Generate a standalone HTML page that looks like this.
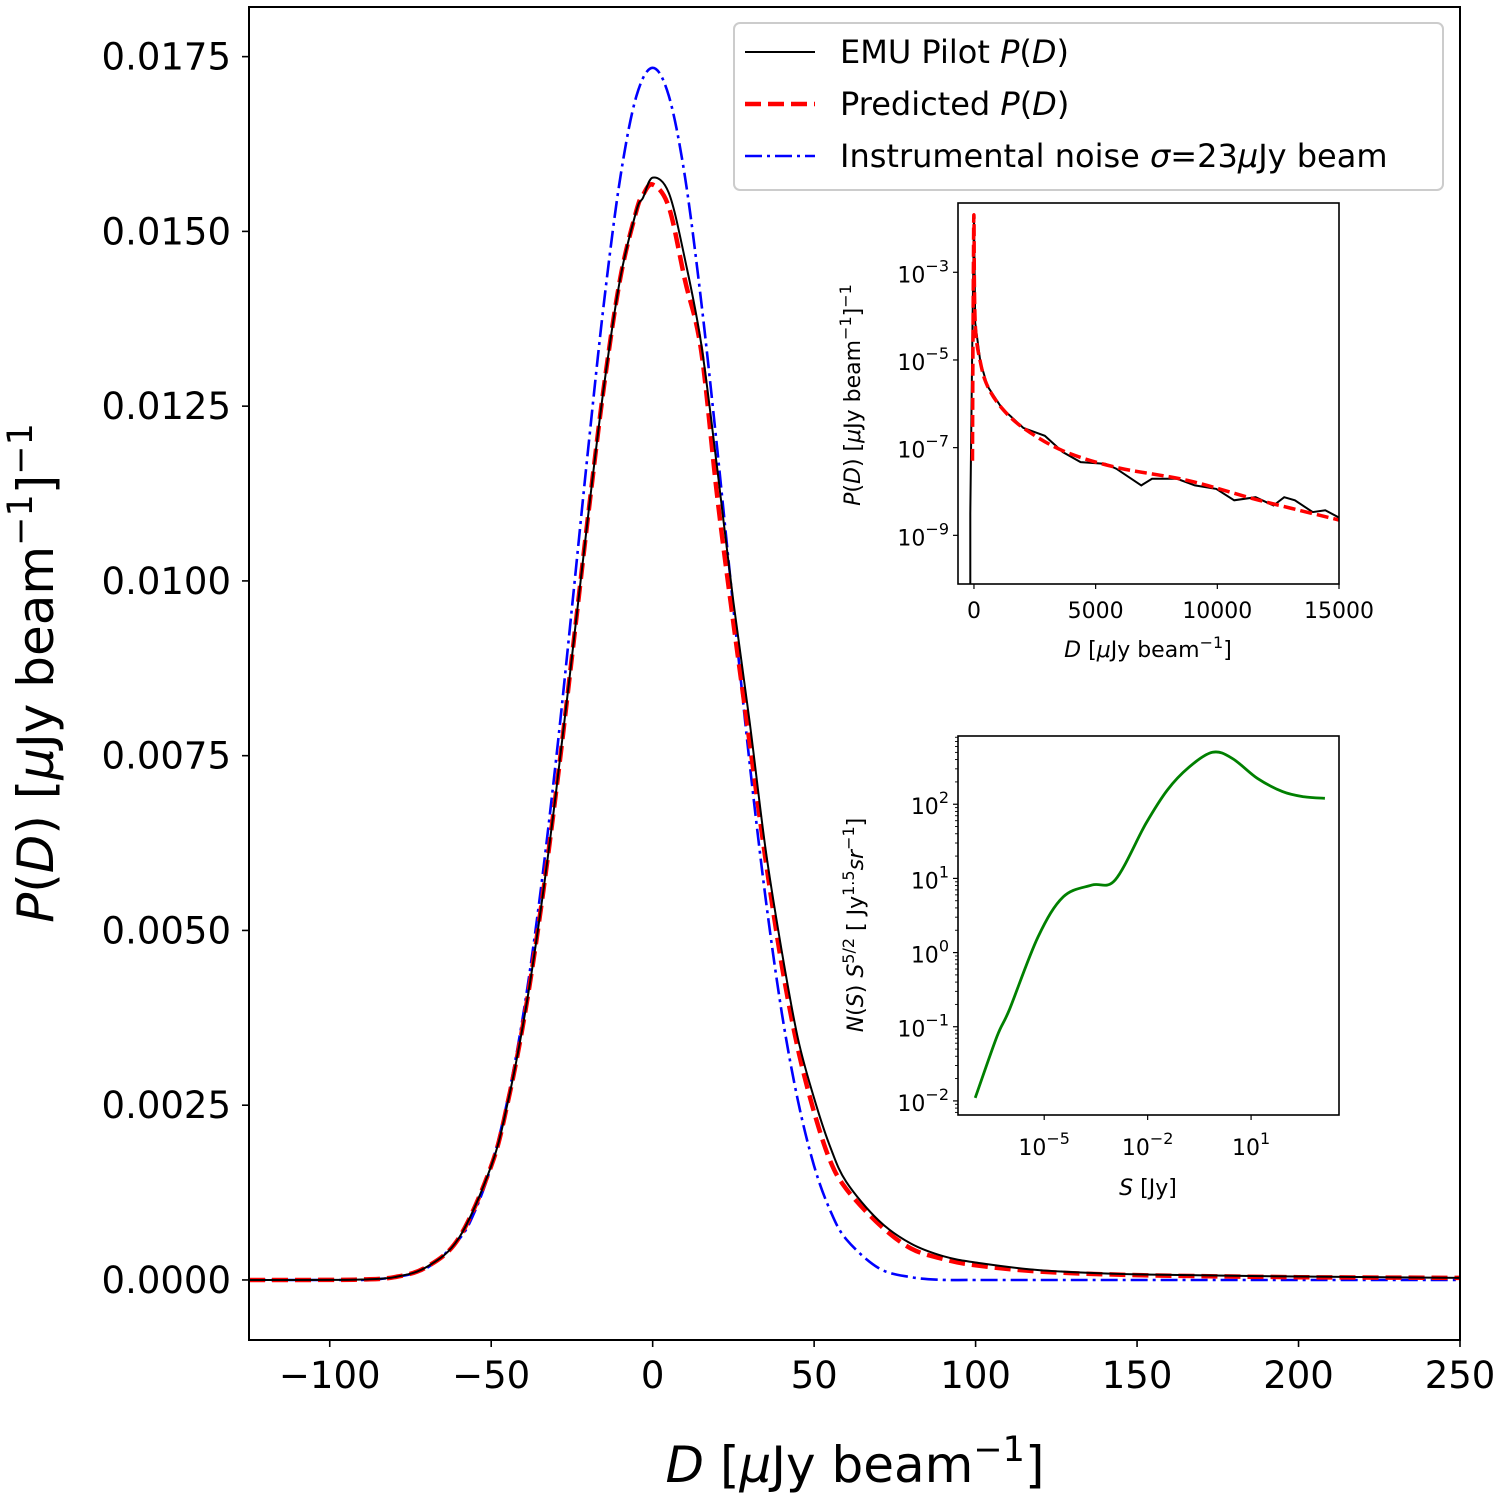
<!DOCTYPE html>
<html><head><meta charset="utf-8"><style>
html,body{margin:0;padding:0;background:#fff;}
svg{display:block;font-family:"DejaVu Sans","Liberation Sans",sans-serif;}
</style></head><body>
<svg id="chart" width="1500" height="1499" viewBox="0 0 1500 1499" xmlns="http://www.w3.org/2000/svg">
<rect x="0" y="0" width="1500" height="1499" fill="#fff"/>
<g id="main"></g>
<g id="inset1"></g>
<g id="inset2"></g>
</svg>
<script>
// ---- main plot data ----
const mainD = [-125,-100,-90,-80,-70,-60,-50,-45,-40,-35,-30,-25,-20,-15,-10,-5,-3,0,5,10,15,20,25,30,35,40,45,50,55,60,70,80,90,100,120,150,200,250];
const emuP = [0,0.000001,0.000007,0.00004,0.000185,0.0006,0.00163,0.00251,0.00369,0.00518,0.00695,0.00891,0.01093,0.01281,0.01434,0.0153,0.01548,0.01577,0.01555,0.0146,0.0134,0.0116,0.0097,0.008,0.00615,0.0047,0.00345,0.0026,0.0019,0.0014,0.00085,0.00052,0.00034,0.00025,0.00014,0.00008,0.00005,0.00003];
const predP = [0,0.000001,0.000007,0.00004,0.000185,0.0006,0.00163,0.00251,0.00369,0.00518,0.00695,0.00891,0.01093,0.01281,0.01434,0.0153,0.01552,0.01567,0.01535,0.0143,0.0133,0.0112,0.0094,0.0077,0.006,0.0045,0.0033,0.0024,0.0017,0.0013,0.0008,0.00045,0.0003,0.00021,0.00012,0.00007,0.00004,0.00003];
const noiseD = [-125,-100,-90,-80,-70,-60,-55,-50,-45,-40,-35,-30,-25,-20,-15,-10,-5,0,5,10,15,20,25,30,35,40,45,50,55,60,70,80,90,100,125,150,200,250];
const noiseP = [0,0,0.000001,0.00004,0.00017,0.00058,0.00099,0.00163,0.00256,0.00382,0.00545,0.00741,0.00961,0.01188,0.01401,0.01578,0.01694,0.01734,0.01694,0.01578,0.01401,0.01188,0.00961,0.00741,0.00545,0.00382,0.00256,0.00163,0.00099,0.00058,0.00017,0.00004,0.000001,0,0,0,0,0];
const mainXTicks = [-100,-50,0,50,100,150,200,250];
const mainXTickLabels = ["\u2212100","\u221250","0","50","100","150","200","250"];
const mainYTicks = [0,0.0025,0.005,0.0075,0.01,0.0125,0.015,0.0175];
const mainYTickLabels = ["0.0000","0.0025","0.0050","0.0075","0.0100","0.0125","0.0150","0.0175"];
// ---- inset 1 (log P(D)) ----
const in1EmuD = [-150,-150,-60,-20,0,49,266,561,1148,2029,2910,3648,4381,5409,5848,6877,7317,8345,9079,9960,10693,11574,12307,12748,13188,13921,14435,14948,15000];
const in1EmuLogP = [-10.5,-8.5,-4.2,-2.5,-1.75,-4.15,-5.05,-5.6,-6.1,-6.55,-6.73,-7.1,-7.33,-7.37,-7.48,-7.86,-7.71,-7.71,-7.86,-7.94,-8.2,-8.13,-8.32,-8.13,-8.2,-8.47,-8.43,-8.58,-8.6];
const in1PredD = [-60,-40,-20,0,49,266,561,1148,2029,3648,5848,8787,11721,15000];
const in1PredLogP = [-7.3,-4.5,-2.6,-1.75,-4.15,-5.05,-5.6,-6.1,-6.55,-7.07,-7.45,-7.75,-8.2,-8.65];
const in1XTicks = [0,5000,10000,15000];
const in1YTickExps = [-3,-5,-7,-9];
// ---- inset 2 (source counts) ----
const in2LogS = [-7,-6.37,-6.01,-5.18,-4.45,-3.62,-2.94,-2.05,-1.43,-0.8,-0.12,0.45,1.18,1.91,2.53,3.14];
const in2LogN = [-1.96,-1.13,-0.77,0.21,0.75,0.91,0.98,1.74,2.19,2.5,2.7,2.62,2.35,2.17,2.1,2.08];
const in2XTickExps = [-5,-2,1];
const in2YTickExps = [-2,-1,0,1,2];

const NS="http://www.w3.org/2000/svg";
function mk(parent,tag,attrs){const e=document.createElementNS(NS,tag);for(const k in attrs)e.setAttribute(k,attrs[k]);parent.appendChild(e);return e;}
function pathFrom(xs,ys,fx,fy){return xs.map((x,i)=>(i?'L':'M')+fx(x).toFixed(1)+','+fy(ys[i]).toFixed(1)).join('');}
function smoothFrom(xs,ys,fx,fy){
  const P=xs.map((x,i)=>[fx(x),fy(ys[i])]);
  let d='M'+P[0][0].toFixed(1)+','+P[0][1].toFixed(1);
  for(let i=0;i<P.length-1;i++){
    const p0=P[Math.max(0,i-1)],p1=P[i],p2=P[i+1],p3=P[Math.min(P.length-1,i+2)];
    const c1x=p1[0]+(p2[0]-p0[0])/6,c1y=p1[1]+(p2[1]-p0[1])/6;
    const c2x=p2[0]-(p3[0]-p1[0])/6,c2y=p2[1]-(p3[1]-p1[1])/6;
    d+='C'+c1x.toFixed(1)+','+c1y.toFixed(1)+' '+c2x.toFixed(1)+','+c2y.toFixed(1)+' '+p2[0].toFixed(1)+','+p2[1].toFixed(1);
  }
  return d;
}
function clip(id,x,y,w,h){const d=mk(document.getElementById('chart'),'clipPath',{id:id});mk(d,'rect',{x:x,y:y,width:w,height:h});}

// main axes
const M={x0:249,x1:1460,y0:7,y1:1340,xmin:-125,xmax:250,ymin:-0.000859,ymax:0.01821};
const mx=v=>M.x0+(v-M.xmin)/(M.xmax-M.xmin)*(M.x1-M.x0);
const my=v=>M.y1-(v-M.ymin)/(M.ymax-M.ymin)*(M.y1-M.y0);
const gm=document.getElementById('main');
clip('cm',M.x0,M.y0,M.x1-M.x0,M.y1-M.y0);
const gl=mk(gm,'g',{'clip-path':'url(#cm)'});
let p;
p=mk(gl,'path',{d:smoothFrom(noiseD,noiseP,mx,my),fill:'none',stroke:'#0000ff','stroke-width':2.6,'stroke-dasharray':'17,5,3,5'});


p=mk(gl,'path',{d:smoothFrom(mainD,predP,mx,my),fill:'none',stroke:'#ff0000','stroke-width':4.5,'stroke-dasharray':'16,7'});


p=mk(gl,'path',{d:smoothFrom(mainD,emuP,mx,my),fill:'none',stroke:'#000','stroke-width':2});


let r=mk(gm,'rect',{x:M.x0,y:M.y0,width:M.x1-M.x0,height:M.y1-M.y0,fill:'none',stroke:'#000','stroke-width':2});


mainXTicks.forEach((v,i)=>{const X=mx(v);mk(gm,'line',{x1:X,x2:X,y1:M.y1,y2:M.y1+7,stroke:'#000','stroke-width':1.6});
 const t=mk(gm,'text',{x:X,y:1388,'font-size':37,'text-anchor':'middle'});t.textContent=mainXTickLabels[i];
 
 });
mainYTicks.forEach((v,i)=>{const Y=my(v);mk(gm,'line',{x1:M.x0-7,x2:M.x0,y1:Y,y2:Y,stroke:'#000','stroke-width':1.6});
 const t=mk(gm,'text',{x:231,y:Y+13,'font-size':37,'text-anchor':'end'});t.textContent=mainYTickLabels[i];
 
 });
// axis titles
let xt=mk(gm,'text',{x:855,y:1482,'font-size':50,'text-anchor':'middle'});
xt.innerHTML='<tspan font-style="italic">D</tspan> [<tspan font-style="italic">μ</tspan>Jy beam<tspan dy="-21" font-size="35">−1</tspan><tspan dy="21">]</tspan>';


let yt=mk(gm,'text',{x:0,y:0,'font-size':50,'text-anchor':'middle',transform:'translate(53,673) rotate(-90)'});
yt.innerHTML='<tspan font-style="italic">P</tspan>(<tspan font-style="italic">D</tspan>) [<tspan font-style="italic">μ</tspan>Jy beam<tspan dy="-21" font-size="35">−1</tspan><tspan dy="21">]</tspan><tspan dy="-21" font-size="35">−1</tspan>';


// legend
const lg=mk(gm,'g',{});


mk(lg,'rect',{x:734,y:23,width:709,height:167,rx:6,fill:'#fff','fill-opacity':0.85,stroke:'#ccc','stroke-width':2});
const legItems=[['#000',2,'none','EMU Pilot <tspan font-style="italic">P</tspan>(<tspan font-style="italic">D</tspan>)',52],
 ['#ff0000',4.5,'16,7','Predicted <tspan font-style="italic">P</tspan>(<tspan font-style="italic">D</tspan>)',104],
 ['#0000ff',2.6,'17,5,3,5','Instrumental noise <tspan font-style="italic">σ</tspan>=23<tspan font-style="italic">μ</tspan>Jy  beam',156]];
legItems.forEach(it=>{const e=mk(lg,'g',{});
 
 
 mk(e,'line',{x1:745,x2:815,y1:it[4],y2:it[4],stroke:it[0],'stroke-width':it[1],'stroke-dasharray':it[2]});
 const t=mk(e,'text',{x:840,y:it[4]+11,'font-size':32,'xml:space':'preserve'});t.innerHTML=it[3];});

// inset 1
const A={x0:958,x1:1339,y0:203,y1:584,xmin:-656,xmax:15000,ymin:-10.11,ymax:-1.42};
const ax=v=>A.x0+(v-A.xmin)/(A.xmax-A.xmin)*(A.x1-A.x0);
const ay=v=>A.y1-(v-A.ymin)/(A.ymax-A.ymin)*(A.y1-A.y0);
const g1=document.getElementById('inset1');
clip('c1',A.x0,A.y0,A.x1-A.x0,A.y1-A.y0);
mk(g1,'rect',{x:A.x0,y:A.y0,width:A.x1-A.x0,height:A.y1-A.y0,fill:'#fff'});
const g1l=mk(g1,'g',{'clip-path':'url(#c1)'});
p=mk(g1l,'path',{d:pathFrom(in1EmuD,in1EmuLogP,ax,ay),fill:'none',stroke:'#000','stroke-width':2});


p=mk(g1l,'path',{d:smoothFrom(in1PredD,in1PredLogP,ax,ay),fill:'none',stroke:'#ff0000','stroke-width':3.5,'stroke-dasharray':'12,5'});


r=mk(g1,'rect',{x:A.x0,y:A.y0,width:A.x1-A.x0,height:A.y1-A.y0,fill:'none',stroke:'#000','stroke-width':1.6});


in1XTicks.forEach(v=>{const X=ax(v);mk(g1,'line',{x1:X,x2:X,y1:A.y1,y2:A.y1+5,stroke:'#000','stroke-width':1.2});
 const t=mk(g1,'text',{x:X,y:618,'font-size':22,'text-anchor':'middle'});t.textContent=String(v);
 
 });
in1YTickExps.forEach(v=>{const Y=ay(v);mk(g1,'line',{x1:A.x0-5,x2:A.x0,y1:Y,y2:Y,stroke:'#000','stroke-width':1.2});
 const t=mk(g1,'text',{x:949,y:Y+10,'font-size':22,'text-anchor':'end'});t.innerHTML='10<tspan dy="-11" font-size="16">−'+Math.abs(v)+'</tspan>';
 
 });
let t1=mk(g1,'text',{x:1148,y:657,'font-size':22,'text-anchor':'middle'});
t1.innerHTML='<tspan font-style="italic">D</tspan> [<tspan font-style="italic">μ</tspan>Jy beam<tspan dy="-9" font-size="16">−1</tspan><tspan dy="9">]</tspan>';


let t2=mk(g1,'text',{x:0,y:0,'font-size':22,'text-anchor':'middle',transform:'translate(860,395) rotate(-90)'});
t2.innerHTML='<tspan font-style="italic">P</tspan>(<tspan font-style="italic">D</tspan>) [<tspan font-style="italic">μ</tspan>Jy beam<tspan dy="-9" font-size="16">−1</tspan><tspan dy="9">]</tspan><tspan dy="-9" font-size="16">−1</tspan>';



// inset 2
const B={x0:958,x1:1339,y0:736,y1:1115,xmin:-7.5,xmax:3.55,ymin:-2.19,ymax:2.92};
const bx=v=>B.x0+(v-B.xmin)/(B.xmax-B.xmin)*(B.x1-B.x0);
const by=v=>B.y1-(v-B.ymin)/(B.ymax-B.ymin)*(B.y1-B.y0);
const g2=document.getElementById('inset2');
mk(g2,'rect',{x:B.x0,y:B.y0,width:B.x1-B.x0,height:B.y1-B.y0,fill:'#fff'});
p=mk(g2,'path',{d:smoothFrom(in2LogS,in2LogN,bx,by),fill:'none',stroke:'#008000','stroke-width':2.8,'stroke-linejoin':'round'});


r=mk(g2,'rect',{x:B.x0,y:B.y0,width:B.x1-B.x0,height:B.y1-B.y0,fill:'none',stroke:'#000','stroke-width':1.6});


in2XTickExps.forEach(v=>{const X=bx(v);mk(g2,'line',{x1:X,x2:X,y1:B.y1,y2:B.y1+5,stroke:'#000','stroke-width':1.2});
 const t=mk(g2,'text',{x:X,y:1155,'font-size':22,'text-anchor':'middle'});t.innerHTML='10<tspan dy="-11" font-size="16">'+(v<0?'−':'')+Math.abs(v)+'</tspan>';
 
 });
for(let d=-3;d<=2;d++){for(let k=2;k<=9;k++){const v=d+Math.log10(k);if(v<B.ymin||v>B.ymax)continue;const Y=by(v);mk(g2,'line',{x1:B.x0-3,x2:B.x0,y1:Y,y2:Y,stroke:'#000','stroke-width':0.9});}}
in2YTickExps.forEach(v=>{const Y=by(v);mk(g2,'line',{x1:B.x0-5,x2:B.x0,y1:Y,y2:Y,stroke:'#000','stroke-width':1.2});
 const t=mk(g2,'text',{x:949,y:Y+10,'font-size':22,'text-anchor':'end'});t.innerHTML='10<tspan dy="-11" font-size="16">'+(v<0?'−':'')+Math.abs(v)+'</tspan>';
 
 });
let t3=mk(g2,'text',{x:1148,y:1195,'font-size':22,'text-anchor':'middle'});
t3.innerHTML='<tspan font-style="italic">S</tspan> [Jy]';


let t4=mk(g2,'text',{x:0,y:0,'font-size':22,'text-anchor':'middle',transform:'translate(863,925) rotate(-90)'});
t4.innerHTML='<tspan font-style="italic">N</tspan>(<tspan font-style="italic">S</tspan>) <tspan font-style="italic">S</tspan><tspan dy="-9" font-size="16">5/2</tspan><tspan dy="9"> [ Jy</tspan><tspan dy="-9" font-size="16">1.5</tspan><tspan dy="9" font-style="italic">sr</tspan><tspan dy="-9" font-size="16">−1</tspan><tspan dy="9">]</tspan>';


</script>
</body></html>
